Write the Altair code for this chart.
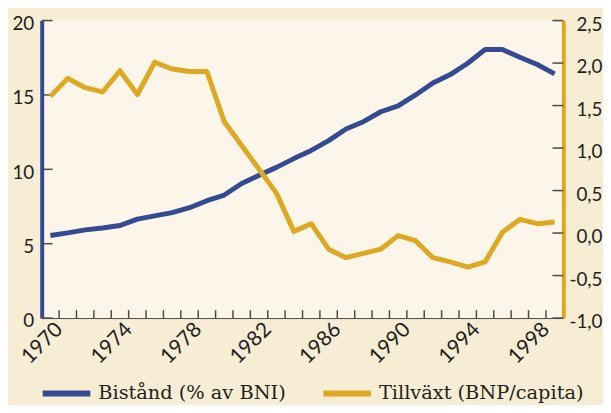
import altair as alt
import pandas as pd

years = list(range(1970, 2000))
bistand = [5.55, 5.73, 5.93, 6.05, 6.22, 6.65, 6.87, 7.09, 7.42, 7.89,
           8.27, 9.05, 9.60, 10.13, 10.72, 11.27, 11.93, 12.71, 13.20, 13.87,
           14.27, 15.00, 15.80, 16.37, 17.13, 18.05, 18.05, 17.53, 17.05, 16.42]
tillvaxt = [1.61, 1.82, 1.71, 1.66, 1.91, 1.63, 2.01, 1.93, 1.90, 1.90,
            1.31, 1.03, 0.75, 0.47, 0.02, 0.11, -0.19, -0.29, -0.24, -0.19,
            -0.03, -0.09, -0.29, -0.34, -0.40, -0.34, 0.01, 0.16, 0.11, 0.13]
tick_years = list(range(1970, 1999))
label_years = [1970, 1974, 1978, 1982, 1986, 1990, 1994, 1998]
left_ticks = [0, 5, 10, 15, 20]
right_ticks = [-1.0, -0.5, 0.0, 0.5, 1.0, 1.5, 2.0, 2.5]

BLUE = "#354b91"
YELLOW = "#dfa823"
TXT = "#1e1e1e"
TICK = "#4a4a4a"
S1 = "Bistånd (% av BNI)"
S2 = "Tillväxt (BNP/capita)"

df = pd.DataFrame({"year": years, "bistand": bistand, "tillvaxt": tillvaxt})
df_xt = pd.DataFrame({"t": tick_years})
df_lt = pd.DataFrame({"v": left_ticks})
df_rt = pd.DataFrame({"v": right_ticks})

xscale = alt.Scale(domain=[1969, 1999], nice=False, zero=False)
xaxis = alt.Axis(values=label_years, ticks=False, labelAngle=-45, labelAlign="right",
                 labelBaseline="middle", labelPadding=8, labelFont="Lato", labelFontSize=21,
                 labelColor=TXT, domainColor=TICK, domainWidth=1, grid=False, title=None,
                 format="d")

lscale = alt.Scale(domain=[0, 20], nice=False, zero=False)
laxis = alt.Axis(values=left_ticks, ticks=False, orient="left", labelFont="Lato", labelFontSize=19,
                 labelColor=TXT, labelPadding=8, labelOffset=3, domainColor=BLUE, domainWidth=4,
                 grid=False, title=None)
rscale = alt.Scale(domain=[-1, 2.5], nice=False, zero=False)
raxis = alt.Axis(values=right_ticks, ticks=False, orient="right", labelFont="Lato", labelFontSize=19,
                 labelColor=TXT, labelPadding=39, labelAlign="right", labelOffset=4,
                 domainColor=YELLOW, domainWidth=4, grid=False, title=None,
                 labelExpr="replace(replace(format(datum.value, '.1f'), '.', ','), '\u2212', '-')")

cscale = alt.Scale(domain=[S1, S2], range=[BLUE, YELLOW])
legend = alt.Legend(orient="none", legendX=-2, legendY=349, direction="horizontal",
                    symbolType="stroke", symbolSize=2304, symbolStrokeWidth=6,
                    labelFont="DejaVu Serif", labelFontSize=19.5, labelColor=TXT, labelLimit=400,
                    labelOffset=5, columnPadding=25, title=None)

base = alt.Chart(df).transform_calculate(pos="datum.year - 0.5")

blue_line = base.transform_calculate(series=f"'{S1}'").mark_line(
    strokeWidth=5, strokeJoin="round").encode(
    x=alt.X("pos:Q", scale=xscale, axis=xaxis),
    y=alt.Y("bistand:Q", scale=lscale, axis=laxis),
    color=alt.Color("series:N", scale=cscale, legend=legend),
)
left_tick_rules = alt.Chart(df_lt).mark_rule(color=TICK, strokeWidth=1.5).encode(
    y=alt.Y("v:Q", scale=lscale, axis=laxis),
    x=alt.value(0), x2=alt.value(11),
)
yellow_line = base.transform_calculate(series=f"'{S2}'").mark_line(
    strokeWidth=5, strokeJoin="round").encode(
    x=alt.X("pos:Q", scale=xscale, axis=xaxis),
    y=alt.Y("tillvaxt:Q", scale=rscale, axis=raxis),
    color=alt.Color("series:N", scale=cscale, legend=legend),
)
right_tick_rules = alt.Chart(df_rt).mark_rule(color=TICK, strokeWidth=1.5).encode(
    y=alt.Y("v:Q", scale=rscale, axis=raxis),
    x=alt.value(515), x2=alt.value(526),
)
x_tick_rules = alt.Chart(df_xt).mark_rule(color=TICK, strokeWidth=1.5).encode(
    x=alt.X("t:Q", scale=xscale, axis=xaxis),
    y=alt.value(292), y2=alt.value(300),
)

left_layer = alt.layer(x_tick_rules, left_tick_rules, blue_line)
right_layer = alt.layer(right_tick_rules, yellow_line)

chart = alt.layer(left_layer, right_layer).resolve_scale(y="independent").properties(
    width=526, height=300,
    padding={"left": 34, "top": 11, "right": 40, "bottom": 86},
    autosize=alt.AutoSizeParams(type="none"),
    background="#f7ecd4",
).configure_view(strokeWidth=0, fill="#fcf6ea")

chart.save("out.html", embed_options={"renderer": "svg", "actions": False})
